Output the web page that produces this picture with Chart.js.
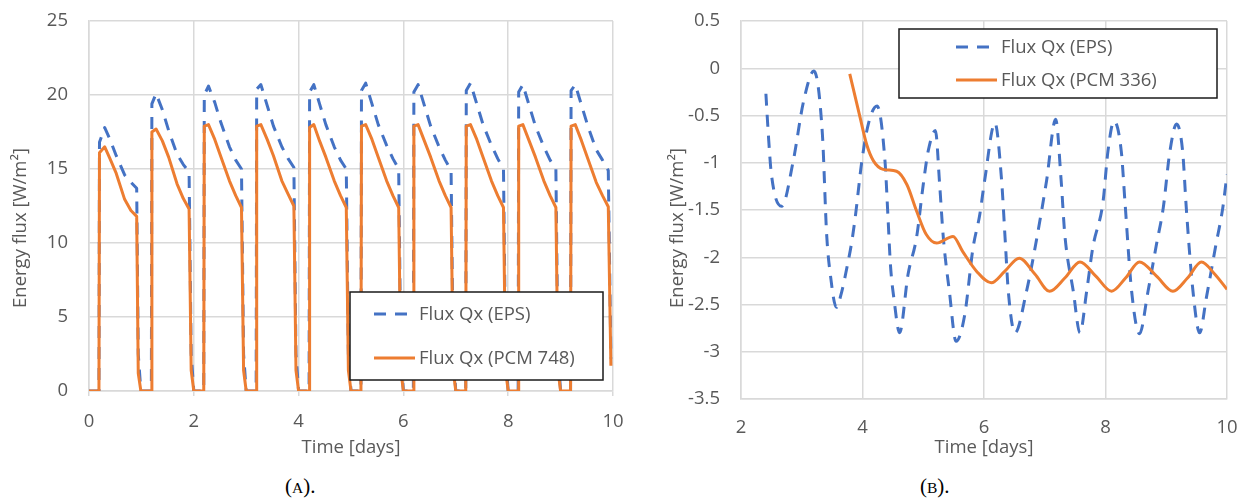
<!DOCTYPE html>
<html>
<head>
<meta charset="utf-8">
<script src="https://cdn.jsdelivr.net/npm/chart.js@4.4.1/dist/chart.umd.min.js"></script>
<style>
  html, body { margin: 0; padding: 0; background: #fff; }
  body { width: 1250px; height: 498px; position: relative; overflow: hidden; }
  canvas { position: absolute; top: 0; }
  #chartA { left: 0; }
  #chartB { left: 625px; }
  .cap { position: absolute; top: 473px; font-family: "Liberation Serif", "DejaVu Serif", serif;
         font-size: 21px; color: #000; line-height: 26px; white-space: nowrap; }
  .cap .sc { font-size: 15.5px; }
  #capA { left: 285px; }
  #capB { left: 920px; }
</style>
</head>
<body>
<canvas id="chartA" width="625" height="470"></canvas>
<canvas id="chartB" width="625" height="470"></canvas>
<div class="cap" id="capA">(<span class="sc">A</span>).</div>
<div class="cap" id="capB">(<span class="sc">B</span>).</div>

<script>
// ---- (A) daily flux, EPS vs PCM 748, days 0-10 ----
const timeA = [0,
  0.19, 0.20, 0.30, 0.40, 0.52, 0.68, 0.80, 0.91, 0.94, 0.99,
  1.19, 1.20, 1.28, 1.40, 1.52, 1.68, 1.80, 1.91, 1.95, 2.00,
  2.19, 2.20, 2.28, 2.40, 2.52, 2.68, 2.80, 2.91, 2.95, 3.00,
  3.19, 3.20, 3.28, 3.40, 3.52, 3.68, 3.80, 3.91, 3.95, 4.00,
  4.20, 4.21, 4.29, 4.40, 4.52, 4.68, 4.80, 4.91, 4.95, 5.00,
  5.19, 5.20, 5.28, 5.40, 5.52, 5.68, 5.80, 5.91, 5.95, 6.00,
  6.19, 6.20, 6.28, 6.40, 6.52, 6.68, 6.80, 6.91, 6.95, 7.00,
  7.19, 7.20, 7.28, 7.40, 7.52, 7.68, 7.80, 7.91, 7.95, 8.00,
  8.19, 8.20, 8.28, 8.40, 8.52, 8.68, 8.80, 8.91, 8.95, 9.00,
  9.19, 9.20, 9.28, 9.40, 9.52, 9.68, 9.80, 9.91, 9.96];

const epsA = [0,
  0, 16.8, 17.8, 17.0, 15.9, 14.6, 14.1, 13.7, 2.5, 0,
  0, 19.4, 20.1, 19.0, 17.6, 16.0, 15.3, 14.8, 2.5, 0,
  0, 20.0, 20.6, 19.5, 18.1, 16.5, 15.6, 15.0, 2.5, 0,
  0, 20.4, 20.7, 19.3, 17.9, 16.5, 15.7, 15.1, 2.5, 0,
  0, 20.2, 20.7, 19.4, 18.0, 16.5, 15.6, 15.0, 2.5, 0,
  0, 20.3, 20.8, 19.4, 18.0, 16.6, 15.7, 15.0, 2.5, 0,
  0, 20.2, 20.7, 19.3, 17.9, 16.5, 15.6, 14.9, 2.5, 0,
  0, 20.3, 20.8, 19.4, 18.0, 16.6, 15.7, 15.0, 2.5, 0,
  0, 20.2, 20.7, 19.3, 17.9, 16.5, 15.6, 15.0, 2.5, 0,
  0, 20.3, 20.7, 19.3, 17.9, 16.3, 15.6, 14.9, 2.2];

const pcmA = [0,
  0, 16.1, 16.5, 15.7, 14.7, 12.95, 12.2, 11.8, 1.2, 0,
  0, 17.5, 17.7, 16.9, 15.8, 14.0, 13.0, 12.3, 1.4, 0,
  0, 17.9, 18.0, 17.0, 15.8, 14.2, 13.2, 12.4, 1.4, 0,
  0, 17.9, 18.0, 17.0, 15.9, 14.2, 13.3, 12.5, 1.4, 0,
  0, 17.8, 18.0, 16.9, 15.8, 14.2, 13.2, 12.4, 1.4, 0,
  0, 17.9, 18.0, 17.0, 15.8, 14.2, 13.2, 12.4, 1.4, 0,
  0, 17.9, 18.0, 16.9, 15.8, 14.2, 13.2, 12.4, 1.4, 0,
  0, 17.9, 18.0, 17.0, 15.8, 14.2, 13.2, 12.4, 1.4, 0,
  0, 17.9, 18.0, 16.9, 15.8, 14.2, 13.2, 12.4, 1.4, 0,
  0, 17.9, 18.0, 16.9, 15.7, 14.1, 13.2, 12.45, 1.7];

const ticksAx = [0, 2, 4, 6, 8, 10];
const ticksAy = [0, 5, 10, 15, 20, 25];

// ---- (B) EPS vs PCM 336, days 2-10 ----
const timeEpsB = [2.41, 2.45, 2.50, 2.67, 2.86, 3.03, 3.20, 3.34, 3.41, 3.47, 3.57,
  3.66, 3.74, 3.82, 3.88, 3.99, 4.10, 4.24, 4.37, 4.42, 4.46, 4.52, 4.61,
  4.75, 4.89, 5.00, 5.08, 5.20, 5.27, 5.33, 5.43, 5.54,
  5.68, 5.82, 5.93, 6.01, 6.18, 6.29, 6.35, 6.40, 6.51,
  6.70, 6.86, 7.03, 7.18, 7.27, 7.33, 7.47, 7.58,
  7.69, 7.79, 7.96, 8.04, 8.14, 8.26, 8.32, 8.43, 8.56,
  8.70, 8.84, 8.95, 9.06, 9.17, 9.27, 9.33, 9.44, 9.55,
  9.66, 9.82, 9.93, 10.0];
const epsB = [-0.27, -0.70, -1.12, -1.46, -0.98, -0.35, -0.03, -0.70, -1.76, -2.18, -2.53,
  -2.36, -2.12, -1.85, -1.58, -0.98, -0.58, -0.40, -0.98, -1.58, -2.08, -2.45, -2.80,
  -2.18, -1.79, -1.23, -0.88, -0.66, -1.23, -1.79, -2.36, -2.89,
  -2.62, -1.90, -1.55, -1.19, -0.58, -1.19, -1.83, -2.36, -2.80,
  -2.36, -1.83, -1.19, -0.54, -1.19, -1.76, -2.36, -2.80,
  -2.36, -1.90, -1.41, -0.88, -0.56, -0.88, -1.41, -2.36, -2.81,
  -2.36, -1.86, -1.48, -0.88, -0.59, -0.88, -1.48, -2.36, -2.80,
  -2.43, -1.86, -1.48, -1.12];

const timePcmB = [3.79, 3.96, 4.07, 4.18, 4.34, 4.56, 4.73, 4.89, 5.05, 5.22, 5.49,
  5.65, 5.88, 6.12, 6.34, 6.58, 6.84, 7.08, 7.33, 7.58, 7.84, 8.10, 8.33,
  8.56, 8.84, 9.11, 9.35, 9.58, 9.80, 10.0];
const pcmB = [-0.06, -0.52, -0.81, -0.98, -1.07, -1.09, -1.23, -1.51, -1.76, -1.85, -1.78,
  -1.94, -2.15, -2.27, -2.15, -2.01, -2.18, -2.36, -2.22, -2.05, -2.20, -2.36, -2.22,
  -2.05, -2.20, -2.36, -2.22, -2.05, -2.18, -2.34];

const ticksBx = [2, 4, 6, 8, 10];
const ticksBy = [0.5, 0, -0.5, -1, -1.5, -2, -2.5, -3, -3.5];

// ---- shared styling ----
const BLUE = '#4472c4';
const ORANGE = '#ed7d31';
const TEXT = '#595959';
const GRID = '#d9d9d9';
const FONT = '"Open Sans", "Noto Sans", sans-serif';
const FSIZE = 18.5;

const toPoints = (xs, ys) => xs.map((x, i) => ({ x, y: ys[i] }));

// Axis titles and a boxed legend drawn on top of the plot.
const decorations = {
  id: 'decorations',
  afterDraw(chart, args, o) {
    const ctx = chart.ctx;
    const ca = chart.chartArea;
    ctx.save();
    ctx.fillStyle = TEXT;
    ctx.font = `${FSIZE}px ${FONT}`;
    ctx.textAlign = 'center';
    ctx.textBaseline = 'middle';
    ctx.fillText(o.xTitle, (ca.left + ca.right) / 2, o.xTitleY);
    ctx.save();
    ctx.translate(o.yTitleX, o.yTitleY);
    ctx.rotate(-Math.PI / 2);
    ctx.fillText(o.yTitle, 0, 0);
    ctx.restore();

    // legend box
    const L = o.legend;
    ctx.fillStyle = '#fff';
    ctx.fillRect(L.x, L.y, L.w, L.h);
    ctx.strokeStyle = '#1a1a1a';
    ctx.lineWidth = 1.5;
    ctx.strokeRect(L.x, L.y, L.w, L.h);
    chart.data.datasets.forEach((ds, i) => {
      const cy = L.rows[i];
      ctx.save();
      ctx.strokeStyle = ds.borderColor;
      ctx.lineWidth = ds.borderWidth;
      ctx.setLineDash(ds.borderDash || []);
      ctx.lineCap = 'butt';
      ctx.beginPath();
      ctx.moveTo(L.sx0, cy);
      ctx.lineTo(L.sx1, cy);
      ctx.stroke();
      ctx.restore();
      ctx.fillStyle = TEXT;
      ctx.textAlign = 'left';
      ctx.textBaseline = 'middle';
      ctx.fillText(ds.label, L.tx, cy + 1);
    });
    ctx.restore();
  }
};

function axis(min, max, ticks, fixed, horizontal, tickLen, pad) {
  return {
    type: 'linear',
    min, max,
    afterBuildTicks: s => { s.ticks = ticks.map(v => ({ value: v })); },
    afterFit: s => {
      if (horizontal) s.height = fixed; else s.width = fixed;
      // keep the plot box fixed; label overhang fits inside the layout padding
      s.paddingTop = 0; s.paddingBottom = 0; s.paddingLeft = 0; s.paddingRight = 0;
    },
    border: { color: GRID, width: 1.5 },
    grid: {
      color: GRID, lineWidth: 1.5,
      drawTicks: tickLen > 0, tickLength: tickLen, tickColor: GRID
    },
    ticks: {
      color: TEXT,
      font: { family: FONT, size: FSIZE },
      padding: pad,
      maxRotation: 0,
      callback: v => String(v)
    }
  };
}

function lineSet(label, pts, color, dashed, order, smooth) {
  return {
    label, data: pts, showLine: true,
    borderColor: color, backgroundColor: color,
    borderWidth: 3, borderDash: dashed ? [12, 9] : [],
    pointRadius: 0, fill: false, order,
    tension: smooth ? 0.4 : 0,
    cubicInterpolationMode: smooth ? 'monotone' : 'default',
    borderJoinStyle: 'round', borderCapStyle: 'butt'
  };
}

new Chart(document.getElementById('chartA'), {
  type: 'scatter',
  data: {
    datasets: [
      lineSet('Flux Qx (EPS)', toPoints(timeA, epsA), BLUE, true, 2, false),
      lineSet('Flux Qx (PCM 748)', toPoints(timeA, pcmA), ORANGE, false, 1, false)
    ]
  },
  options: {
    responsive: false, animation: false,
    layout: { padding: { top: 21, right: 12, bottom: 0, left: 0 } },
    scales: {
      x: axis(0, 10, ticksAx, 79, true, 5, 15),
      y: axis(0, 25, ticksAy, 89, false, 0, 21)
    },
    plugins: {
      legend: { display: false }, tooltip: { enabled: false },
      decorations: {
        xTitle: 'Time [days]', xTitleY: 448,
        yTitle: 'Energy flux [W/m²]', yTitleX: 21, yTitleY: 228,
        legend: { x: 350, y: 292, w: 253, h: 88, rows: [314, 358], sx0: 374, sx1: 415, tx: 419 }
      }
    }
  },
  plugins: [decorations]
});

new Chart(document.getElementById('chartB'), {
  type: 'scatter',
  data: {
    datasets: [
      lineSet('Flux Qx (EPS)', toPoints(timeEpsB, epsB), BLUE, true, 2, true),
      lineSet('Flux Qx (PCM 336)', toPoints(timePcmB, pcmB), ORANGE, false, 1, true)
    ]
  },
  options: {
    responsive: false, animation: false,
    layout: { padding: { top: 21, right: 23, bottom: 0, left: 0 } },
    scales: {
      x: axis(2, 10, ticksBx, 71, true, 0, 18),
      y: axis(-3.5, 0.5, ticksBy, 116, false, 0, 21)
    },
    plugins: {
      legend: { display: false }, tooltip: { enabled: false },
      decorations: {
        xTitle: 'Time [days]', xTitleY: 448,
        yTitle: 'Energy flux [W/m²]', yTitleX: 53, yTitleY: 228,
        legend: { x: 274, y: 29, w: 318, h: 69, rows: [47, 80], sx0: 331, sx1: 372, tx: 376 }
      }
    }
  },
  plugins: [decorations]
});
</script>
</body>
</html>
